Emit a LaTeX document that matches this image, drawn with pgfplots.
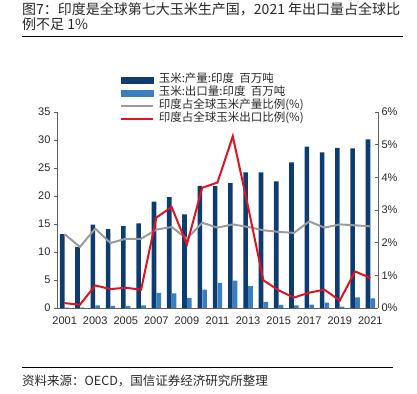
\documentclass[border=0pt]{standalone}
\usepackage{pgfplots}
\pgfplotsset{compat=1.18}
\usepackage{fontspec}
\setmainfont{Liberation Sans}
\newfontfamily\cjk{Noto Sans CJK SC}
\definecolor{prod}{RGB}{12,60,112}
\definecolor{expo}{RGB}{58,125,192}
\definecolor{gline}{RGB}{155,155,155}
\definecolor{rline}{RGB}{226,18,34}
\definecolor{axisc}{RGB}{95,95,95}
\definecolor{txt}{RGB}{40,40,40}

\pgfplotstableread{
x prod expo gshare rshare
0 13.2 0.05 2.26 0.15
1 10.9 0.05 1.87 0.10
2 14.9 0.45 2.43 0.69
3 14.1 0.40 1.99 0.58
4 14.6 0.40 2.12 0.62
5 15.1 0.45 2.12 0.56
6 19.0 2.70 2.40 2.77
7 19.8 2.60 2.48 3.09
8 16.7 1.80 2.12 1.95
9 21.8 3.30 2.61 3.68
10 21.8 4.50 2.46 3.84
11 22.3 4.90 2.56 5.26
12 24.2 3.90 2.48 3.10
13 24.2 1.10 2.38 0.85
14 22.6 0.55 2.33 0.54
15 26.0 0.45 2.30 0.32
16 28.8 0.60 2.65 0.47
17 27.8 0.95 2.46 0.56
18 28.6 0.25 2.56 0.23
19 28.5 1.90 2.53 1.12
20 30.1 1.70 2.50 0.92
}\datatable

\begin{document}
\begin{tikzpicture}
\useasboundingbox (0,0) rectangle (417pt,-393pt);
\node[anchor=north west, inner sep=0, align=left, text=txt, font=\cjk\fontsize{14}{15.5}\selectfont] at (22pt,-2pt) {图7：印度是全球第七大玉米生产国，2021 年出口量占全球比\\例不足 1\%};
\draw[black, line width=0.8pt] (22pt,-36pt) -- (403pt,-36pt);
\draw[black, line width=0.8pt] (22pt,-367pt) -- (393pt,-367pt);
\node[anchor=west, inner sep=0, text=txt, font=\cjk\fontsize{12.5}{14}\selectfont] at (22pt,-381pt) {资料来源：OECD，国信证券经济研究所整理};

\begin{axis}[at={(57pt,-308pt)}, anchor=south west, scale only axis,
  width=321pt, height=196pt,
  xmin=-0.5, xmax=20.5, ymin=0, ymax=35,
  axis y line*=left, axis x line*=bottom,
  axis line style={axisc, line width=0.9pt, -},
  ytick={0,5,...,35},
  xtick={0,2,...,20},
  xticklabels={2001,2003,2005,2007,2009,2011,2013,2015,2017,2019,2021},
  major x tick style={draw=none},
  ytick align=outside, major tick length=3pt,
  tick style={axisc, line width=0.8pt},
  /pgf/number format/assume math mode=true,
  ticklabel style={font=\fontsize{11}{12}\selectfont, text=txt},
  xticklabel style={yshift=-5pt},
  ]
\addplot[ybar, bar width=4.6pt, bar shift=-2.4pt, fill=prod, draw=none] table[x=x,y=prod]{\datatable};
\addplot[ybar, bar width=4.6pt, bar shift=2.4pt, fill=expo, draw=none] table[x=x,y=expo]{\datatable};
\end{axis}

\begin{axis}[at={(57pt,-308pt)}, anchor=south west, scale only axis,
  width=321pt, height=196pt,
  xmin=-0.5, xmax=20.5, ymin=0, ymax=6,
  axis y line*=right, axis x line=none,
  axis line style={axisc, line width=0.9pt, -},
  ytick={0,1,...,6},
  yticklabel={\pgfmathprintnumber{\tick}\%},
  ytick align=inside, major tick length=3pt,
  tick style={axisc, line width=0.8pt},
  /pgf/number format/assume math mode=true,
  ticklabel style={font=\fontsize{11}{12}\selectfont, text=txt},
  legend style={at={(0.195,1.195)}, anchor=north west, draw=none, fill=none,
    inner sep=0pt, row sep=0pt,
    font=\cjk\fontsize{11.5}{12.8}\selectfont,
    nodes={inner sep=0pt, text height=9pt, text depth=3.8pt, text=txt},
    /tikz/every odd column/.append style={column sep=5pt}},
  legend cell align=left,
  ]
\addlegendimage{legend image code/.code={\fill[prod] (0pt,-3pt) rectangle (32pt,3pt);}}
\addlegendentry{玉米:产量:印度\ \ 百万吨}
\addlegendimage{legend image code/.code={\fill[expo] (0pt,-3pt) rectangle (32pt,3pt);}}
\addlegendentry{玉米:出口量:印度\ \ 百万吨}
\addplot[gline, line width=2pt, legend image code/.code={\draw[gline, line width=2pt] (0pt,0pt) -- (32pt,0pt);}] table[x=x,y=gshare]{\datatable};
\addlegendentry{印度占全球玉米产量比例(\%)}
\addplot[rline, line width=2pt, legend image code/.code={\draw[rline, line width=2pt] (0pt,0pt) -- (32pt,0pt);}] table[x=x,y=rshare]{\datatable};
\addlegendentry{印度占全球玉米出口比例(\%)}
\end{axis}
\end{tikzpicture}
\end{document}
